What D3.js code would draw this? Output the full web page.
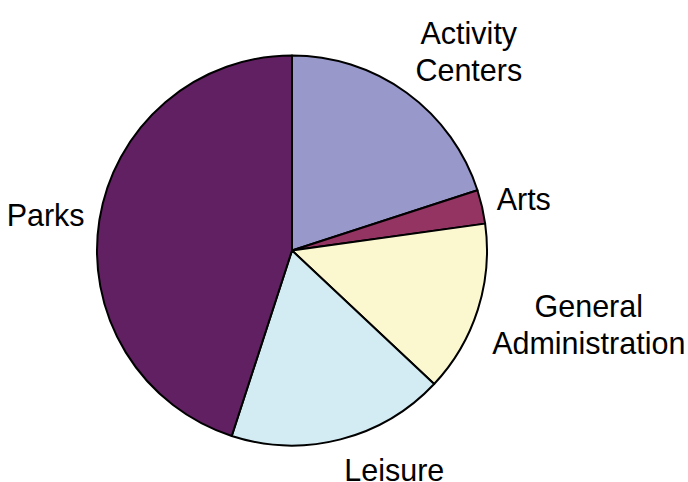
<!DOCTYPE html>
<html>
<head>
<meta charset="utf-8">
<script src="https://cdn.jsdelivr.net/npm/d3@7"></script>
<style>
  body { margin: 0; background: #fff; }
  text { font-family: "Liberation Sans", Arial, sans-serif; fill: #000; }
</style>
</head>
<body>
<div id="chart"></div>
<script>
// pie slices, clockwise from 12 o'clock
const categories = ["Activity Centers", "Arts", "General Administration", "Leisure", "Parks"];
const labelLines = [["Activity", "Centers"], ["Arts"], ["General", "Administration"], ["Leisure"], ["Parks"]];
const shares = [20.0, 2.8, 14.2, 18.0, 45.0];
const colours = ["#9898cb", "#943463", "#fbf8d0", "#d3ecf3", "#612062"];

const fullW = 688, fullH = 482;
const cx = 292, cy = 250.5, r = 195;
const fontSize = 30.5, lineH = 36.5;

const svg = d3.select("#chart")
  .append("svg")
  .attr("width", fullW)
  .attr("height", fullH);

const g = svg.append("g").attr("transform", `translate(${cx},${cy})`);

const data = categories.map((c, i) => ({ name: c, value: shares[i], lines: labelLines[i], colour: colours[i] }));

const pie = d3.pie().sort(null).value(d => d.value);
const arc = d3.arc().innerRadius(0).outerRadius(r);
const arcs = pie(data);

g.selectAll("path.slice")
  .data(arcs)
  .join("path")
  .attr("class", "slice")
  .attr("d", arc)
  .attr("fill", d => d.data.colour)
  .attr("stroke", "#000")
  .attr("stroke-width", 2)
  .attr("stroke-linejoin", "round");

// labels: anchor just outside the rim, text block hangs away from the pie
const labelR = r + 15;
const ascent = 0.905 * fontSize, descent = 0.212 * fontSize;

arcs.forEach(d => {
  const mid = (d.startAngle + d.endAngle) / 2;
  const s = Math.sin(mid), c = Math.cos(mid);
  const ax = labelR * s, ay = -labelR * c;
  const lines = d.data.lines;
  const boxH = ascent + descent + (lines.length - 1) * lineH;
  const fy = (1 + c) / 2;               // 0 = top of block at anchor, 1 = bottom
  const top = ay - fy * boxH;

  const t = g.append("text")
    .style("font-size", fontSize + "px")
    .attr("text-anchor", "middle");

  // widest line decides the block, lines are centred inside it
  const widths = lines.map(l => {
    const tmp = g.append("text").style("font-size", fontSize + "px").text(l);
    const w = tmp.node().getComputedTextLength();
    tmp.remove();
    return w;
  });
  const boxW = d3.max(widths);
  const centreX = s >= 0 ? ax + boxW / 2 : ax - boxW / 2;

  lines.forEach((l, i) => {
    t.append("tspan")
      .attr("x", centreX)
      .attr("y", top + ascent + i * lineH)
      .text(l);
  });
});
</script>
</body>
</html>
